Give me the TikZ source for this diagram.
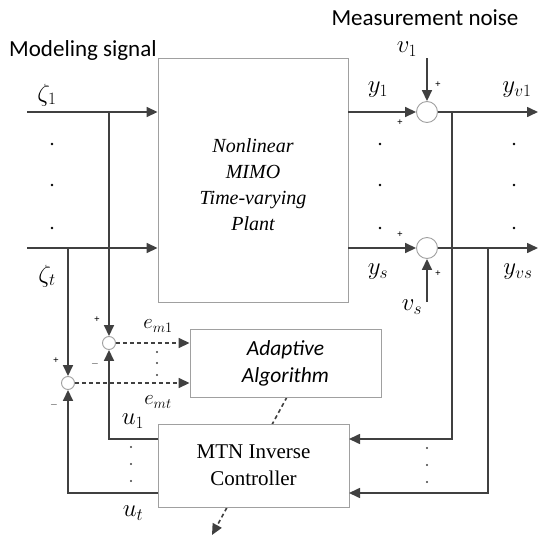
\documentclass[tikz,border=0pt]{standalone}
\usepackage{fontspec}
\setmainfont{Liberation Serif}
\newfontfamily\labfont{Carlito}
\usetikzlibrary{arrows.meta,backgrounds}
\definecolor{ln}{HTML}{404040}
\definecolor{bx}{HTML}{A0A0A0}
\begin{document}
\begin{tikzpicture}[x=1pt,y=-1pt,
 sig/.style={draw=ln, line width=1.6pt},
 arr/.style={sig,-{Triangle[length=11pt,width=10pt]}},
 darr/.style={draw=ln, line width=1.6pt, dash pattern=on 4pt off 3pt, -{Triangle[length=11pt,width=10pt]}},
 blk/.style={draw=bx, fill=white, line width=0.9pt, inner sep=0pt},
 sumR/.style={circle, draw=bx, fill=white, line width=0.9pt, minimum size=21pt, inner sep=0pt},
 sumL/.style={circle, draw=bx, fill=white, line width=0.9pt, minimum size=13pt, inner sep=0pt},
 dot/.style={circle, fill=black, minimum size=2.8pt, inner sep=0pt},
 sdot/.style={circle, fill=ln, minimum size=2.2pt, inner sep=0pt},
 pm/.style={font=\fontsize{10}{10}\selectfont\bfseries, inner sep=0pt},
 lab/.style={font=\fontsize{25}{25}\selectfont, inner sep=0pt},
 slab/.style={font=\fontsize{21}{21}\selectfont, inner sep=0pt},
 ttl/.style={font=\labfont\fontsize{23}{23}\selectfont, inner sep=0pt}
]
\useasboundingbox (0,0) rectangle (550,544);

% blocks
\node[blk, minimum width=190pt, minimum height=244pt] (plant) at (253,180) {};
\node[align=center, font=\itshape\fontsize{20}{26}\selectfont] (ptxt) at (253,185) {Nonlinear\\MIMO\\Time-varying\\Plant};
\node[blk, minimum width=191pt, minimum height=68pt, align=center,
      font=\labfont\itshape\fontsize{21.5}{27}\selectfont] (adapt) at (285.5,363) {Adaptive\\Algorithm};
\node[blk, minimum width=191pt, minimum height=83pt, align=center,
      font=\fontsize{21}{27}\selectfont] (mtn) at (253.5,465.5) {MTN Inverse\\Controller};

% summing junctions
\node[sumR] (r1) at (427,112) {};
\node[sumR] (r2) at (427,248) {};
\node[sumL] (l1) at (109,343) {};
\node[sumL] (l2) at (68,383) {};

% coordinates
\coordinate (z1) at (27,112);
\coordinate (zt) at (27,248);
\coordinate (j1) at (109,112);
\coordinate (jt) at (68,248);
\coordinate (o1) at (538,112);
\coordinate (ot) at (538,248);
\coordinate (k1) at (452,112);
\coordinate (kt) at (488,248);
\coordinate (mi1) at (349,439);
\coordinate (mit) at (349,493);
\coordinate (mo1) at (158,439);
\coordinate (mot) at (158,493);
\coordinate (v1) at (427,58);
\coordinate (vs) at (427,302);
\coordinate (da) at (287,397);
\coordinate (db) at (212,535);

% inputs
\draw[arr] (z1) -- (plant.west |- z1);
\draw[arr] (zt) -- (plant.west |- zt);
\draw[arr] (j1) -- (l1.north);
\draw[arr] (jt) -- (l2.north);

% error signals
\draw[darr] (l1.east) -- (adapt.west |- l1);
\draw[darr] (l2.east) -- (adapt.west |- l2);

% controller outputs
\draw[arr] (mo1) -| (l1.south);
\draw[arr] (mot) -| (l2.south);

% plant outputs
\draw[arr] (plant.east |- r1) -- (r1.west);
\draw[arr] (plant.east |- r2) -- (r2.west);
\draw[arr] (r1.east) -- (o1);
\draw[arr] (r2.east) -- (ot);
\draw[arr] (v1) -- (r1.north);
\draw[arr] (vs) -- (r2.south);
\draw[arr] (k1) |- (mi1);
\draw[arr] (kt) |- (mit);

% adaptation arrow
\begin{scope}[on background layer]
\draw[darr] (da) -- (db);
\end{scope}

% texts
\node[ttl, anchor=west] (ms) at (9,50) {Modeling signal};
\node[ttl] (mn) at (425,18) {Measurement noise};
\node[lab] (lz1) at (47,95) {$\zeta_1$};
\node[lab] (lzt) at (47,276) {$\zeta_t$};
\node[lab] (ly1) at (378,90) {$y_1$};
\node[lab] (lys) at (378,272) {$y_s$};
\node[lab] (lyv1) at (517,90) {$y_{v1}$};
\node[lab] (lyvs) at (518,272) {$y_{vs}$};
\node[lab] (lv1) at (407,49) {$v_1$};
\node[lab] (lvs) at (412,307) {$v_s$};
\node[slab] (lem1) at (158,326) {$e_{m1}$};
\node[slab] (lemt) at (158,402) {$e_{mt}$};
\node[lab] (lu1) at (133,421) {$u_1$};
\node[lab] (lut) at (133,513) {$u_t$};

% plus / minus signs
\node[pm] (p1) at (438,85) {+};
\node[pm] (p2) at (400,123) {+};
\node[pm] (p3) at (400,235) {+};
\node[pm] (p4) at (438,274) {+};
\node[pm] (p5) at (97,320) {+};
\node[pm] (m5) at (95,364) {$-$};
\node[pm] (p6) at (56,361) {+};
\node[pm] (m6) at (54,405) {$-$};

% dots
\foreach \yy [count=\i] in {144,185,228}{
  \node[dot] (dl\i) at (52,\yy) {};
  \node[dot] (dm\i) at (380,\yy) {};
  \node[dot] (dr\i) at (514,\yy) {};
}
\foreach \yy [count=\i] in {352,363,375}{
  \node[sdot] (de\i) at (157,\yy) {};
}
\foreach \yy [count=\i] in {447,464,481}{
  \node[sdot] (du\i) at (131,\yy) {};
  \node[sdot] (dy\i) at (427,\yy+1) {};
}
\end{tikzpicture}
\end{document}
